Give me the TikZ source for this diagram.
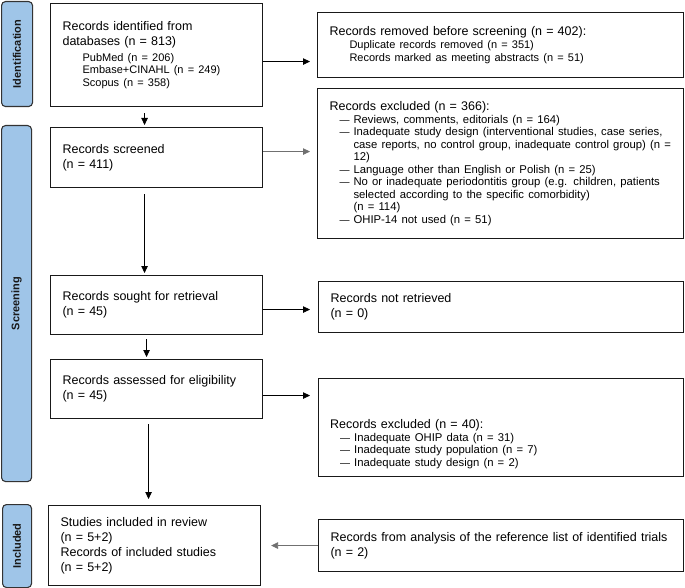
\documentclass[tikz,border=0pt]{standalone}
\usepackage{fontspec}
\setmainfont{Liberation Sans}
\usetikzlibrary{arrows.meta}
\definecolor{sidebl}{HTML}{9FC5E8}
\definecolor{arrgray}{HTML}{707070}
\setlength\parindent{0pt}
\newcommand\subf{\fontsize{11}{12.5}\selectfont}
\newcommand\listf{\fontsize{11.3}{12.5}\selectfont}
\newcommand\dashitem{\noindent\llap{\makebox[14pt][l]{\fontsize{10}{10}\selectfont—}}}
\begin{document}
\begin{tikzpicture}[x=1pt,y=-1pt,
  boxst/.style={draw=black!90, line width=1.1pt, anchor=north west, inner xsep=12pt, inner ysep=0pt, align=left, font=\fontsize{12.5}{15}\selectfont},
  side/.style={draw=black!80, fill=sidebl, line width=1.1pt, rounded corners=4pt, anchor=north west, inner sep=0pt},
  sidelab/.style={rotate=90, font=\fontsize{11}{13}\selectfont\bfseries, text=black!90},
  txt/.style={anchor=west, inner sep=0pt, align=left, font=\fontsize{12.5}{15}\selectfont},
  arr/.style={-{Triangle[length=7pt,width=6.5pt]}, line width=0.8pt, draw=black}
]
\useasboundingbox (0,0) rectangle (685,588);

% sidebars
\node[side, minimum width=31pt, minimum height=105pt] (sid) at (1,1) {};
\node[sidelab] (sidt) at (sid.center) {Identification};
\node[side, minimum width=30pt, minimum height=356pt] (sscr) at (1,125) {};
\node[sidelab] (sscrt) at (sscr.center) {Screening};
\node[side, minimum width=29pt, minimum height=83pt] (sinc) at (2,504) {};
\node[sidelab] (sinct) at (sinc.center) {Included};

% left column
\node[boxst, text width=188pt, minimum height=103pt] (b1) at (50,3) {%
{Records identified from\\databases (n = 813)\par}\vspace{3pt}
{\subf\leftskip=20pt PubMed (n = 206)\\Embase+CINAHL (n = 249)\\Scopus (n = 358)\par}};
\node[boxst, text width=188pt, minimum height=60pt] (b2) at (50,127) {Records screened\\(n = 411)};
\node[boxst, text width=188pt, minimum height=59pt] (b3) at (50,275) {Records sought for retrieval\\(n = 45)};
\node[boxst, text width=188pt, minimum height=59pt] (b4) at (50,359) {Records assessed for eligibility\\(n = 45)};
\node[boxst, text width=188pt, minimum height=80pt] (inc) at (48,505) {Studies included in review\\(n = 5+2)\\Records of included studies\\(n = 5+2)};

% right column
\node[boxst, text width=342pt, minimum height=65pt] (rem) at (317,12) {%
{Records removed before screening (n = 402):\par}\vspace{1pt}
{\subf\leftskip=20pt Duplicate records removed (n = 351)\\Records marked as meeting abstracts (n = 51)\par}};
\node[boxst, text width=342pt, minimum height=150pt] (exc) at (317,88) {%
{Records excluded (n = 366):\par}\vspace{0.5pt}
{\listf\leftskip=24pt
\dashitem Reviews, comments, editorials (n = 164)\par
\dashitem Inadequate study design (interventional studies, case series,\\case reports, no control group, inadequate control group) (n =\\12)\par
\dashitem Language other than English or Polish (n = 25)\par
\dashitem No or inadequate periodontitis group (e.g. children, patients\\selected according to the specific comorbidity)\\(n = 114)\par
\dashitem OHIP-14 not used (n = 51)\par}};
\node[boxst, text width=341pt, minimum height=51pt] (nr) at (318,281) {Records not retrieved\\(n = 0)};
\node[boxst, text width=341pt, minimum height=98pt] (e40) at (318,378) {};
\node[txt, text width=341pt] (e40t) at (330,444) {%
{Records excluded (n = 40):\par}\vspace{0.5pt}
{\listf\leftskip=24pt
\dashitem Inadequate OHIP data (n = 31)\par
\dashitem Inadequate study population (n = 7)\par
\dashitem Inadequate study design (n = 2)\par}};
\node[boxst, text width=341pt, minimum height=52pt] (fa) at (318,519) {Records from analysis of the reference list of identified trials\\(n = 2)};

% connectors
\draw[arr, shorten >=7pt] ([yshift=-6.5pt]b1.east) -- ([yshift=-6.5pt]b1.east -| rem.west);
\draw[arr, shorten <=6pt, shorten >=2pt] ([xshift=-12pt]b1.south) -- ([xshift=-12pt]b1.south |- b2.north);
\draw[arr, draw=arrgray, shorten >=7pt] ([yshift=6pt]b2.east) -- ([yshift=6pt]b2.east -| exc.west);
\draw[arr, shorten <=6pt, shorten >=2pt] ([xshift=-12pt]b2.south) -- ([xshift=-12pt]b2.south |- b3.north);
\draw[arr, shorten >=8pt] ([yshift=-4.5pt]b3.east) -- ([yshift=-4.5pt]b3.east -| nr.west);
\draw[arr, shorten <=4pt, shorten >=2pt] ([xshift=-10pt]b3.south) -- ([xshift=-10pt]b3.south |- b4.north);
\draw[arr, shorten >=8pt] ([yshift=-6.5pt]b4.east) -- ([yshift=-6.5pt]b4.east -| e40.west);
\draw[arr, shorten <=5pt, shorten >=6pt] ([xshift=-8pt]b4.south) -- ([xshift=-8pt]b4.south |- inc.north);
\draw[arr, draw=arrgray, shorten >=10pt] (fa.west) -- (fa.west -| inc.east);
\end{tikzpicture}
\end{document}
